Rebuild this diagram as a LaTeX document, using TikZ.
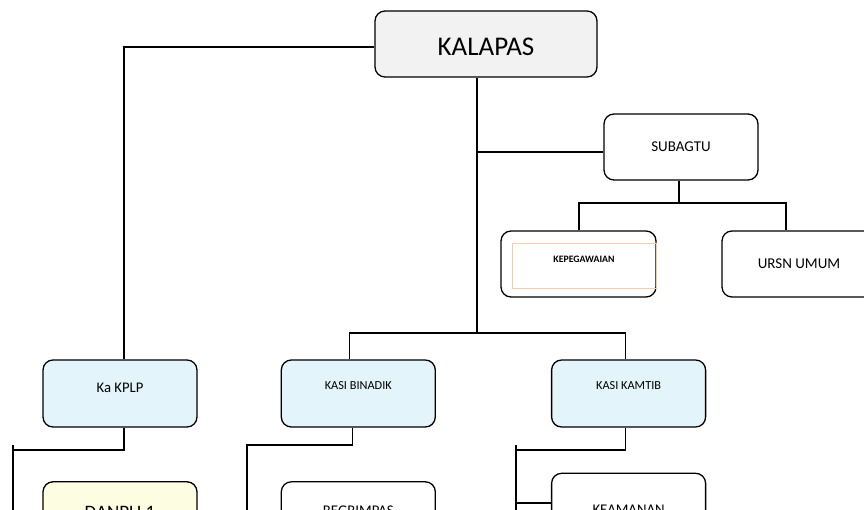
\documentclass[tikz,border=0pt]{standalone}
\usepackage{fontspec}
\setmainfont{Carlito}
\usetikzlibrary{positioning}

\definecolor{headfill}{RGB}{242,242,242}
\definecolor{seksifill}{RGB}{228,244,251}
\definecolor{regufill}{RGB}{253,253,226}
\definecolor{framecol}{RGB}{248,203,170}

\newcommand{\fs}[1]{\fontsize{#1}{#1}\selectfont}

\begin{document}
\begin{tikzpicture}[x=1pt, y=-1pt, line width=1.3pt,
    unit/.style={draw, rounded corners=10pt, align=center, minimum width=154pt, minimum height=67pt, inner sep=3pt},
    seksi/.style={unit, fill=seksifill, font=\fs{12.3}, text depth=15pt},
    regu/.style={unit, inner ysep=24pt, text depth=40pt, font=\fs{14.8}}]
    \useasboundingbox (0,0) rectangle (864,510);
    \clip (0,0) rectangle (864,510);
    % pimpinan
    \node[unit, fill=headfill, minimum width=222pt, minimum height=66pt, text height=23pt, font=\fs{27}] (kalapas) at (486,44) {KALAPAS};
    \node[unit, minimum height=66pt, font=\fs{15}] (subagtu) at (681,147) {SUBAGTU};
    \node[unit, minimum width=155pt, minimum height=66pt] (kepeg) at (578.5,264) {};
    \node[draw=framecol, line width=0.9pt, minimum width=144pt, minimum height=45pt, text depth=13pt, font=\fs{9.8}\bfseries] (kepegframe) at (584,265.5) {KEPEGAWAIAN};
    \node[unit, minimum height=66pt, font=\fs{15}] (ursn) at (799,264) {URSN UMUM};
    % seksi
    \node[seksi, font=\fs{14.7}, text depth=11pt] (kplp) at (120,393.5) {Ka KPLP};
    \node[seksi, right=83pt of kplp] (binadik) {KASI BINADIK};
    \node[seksi, right=115pt of binadik] (kamtib) {KASI KAMTIB};
    % regu
    \node[regu, fill=regufill, font=\fs{19}, below=53.5pt of kplp] (danpu) {DANPU 1};
    \node[regu, below=53.5pt of binadik] (regrimpas) {REGRIMPAS};
    \node[regu, inner ysep=32pt, below=45pt of kamtib] (keamanan) {KEAMANAN};

    \coordinate (sectbus) at (477,333);
    \coordinate (tujunc) at (477,152);
    \coordinate (tubus) at (679,203);
    \coordinate (kplpbus) at (13,450);
    \coordinate (kplptick) at (13,445);
    \coordinate (kplpend) at (13,515);
    \coordinate (binadikbus) at (247,445);
    \coordinate (binadikend) at (247,515);
    \coordinate (kamtibbus) at (516,450);
    \coordinate (kamtibtick) at (516,445);
    \coordinate (kamtibend) at (516,515);
    \coordinate (amanjunc) at (516,503);

    \draw ([yshift=-3pt]kalapas.west) -| ([xshift=4pt]kplp.north);
    \draw ([xshift=-9pt]kalapas.south) -- (sectbus);
    \draw ([xshift=-9pt]binadik.north) |- (sectbus) -| ([xshift=-3pt]kamtib.north);
    \draw (tujunc) -- (tujunc -| subagtu.west);
    \draw ([xshift=-2pt]subagtu.south) -- (tubus);
    \draw ([xshift=0.5pt]kepeg.north) |- (tubus) -| ([xshift=-13pt]ursn.north);
    \draw ([xshift=4pt]kplp.south) |- (kplpbus);
    \draw (kplptick) -- (kplpend);
    \draw ([xshift=-6pt]binadik.south) |- (binadikbus) -- (binadikend);
    \draw ([xshift=-3pt]kamtib.south) |- (kamtibbus);
    \draw (kamtibtick) -- (kamtibend);
    \draw (amanjunc) -- (amanjunc -| keamanan.west);
\end{tikzpicture}
\end{document}
